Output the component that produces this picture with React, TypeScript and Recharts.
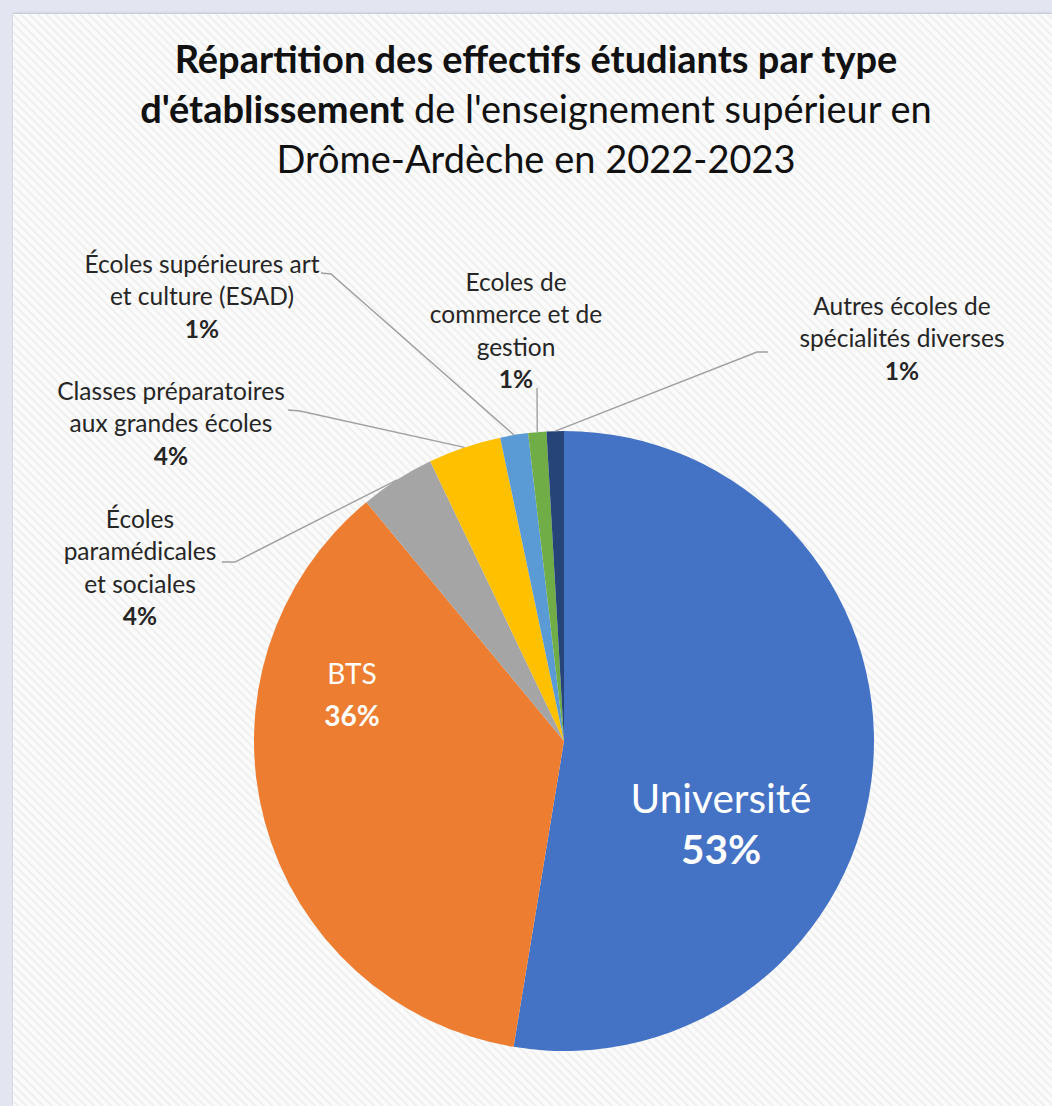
import React from 'react';
import { PieChart, Pie, Cell } from 'recharts';

// Categories in clockwise order, starting at 12 o'clock
const categories = [
  'Université',
  'BTS',
  'Écoles paramédicales et sociales',
  'Classes préparatoires aux grandes écoles',
  'Écoles supérieures art et culture (ESAD)',
  'Ecoles de commerce et de gestion',
  'Autres écoles de spécialités diverses',
];

// Share of students (%)
const shares = [52.6, 36.4, 3.9, 3.8, 1.45, 0.95, 0.9];

// How each label is broken into lines
const labelLines = [
  ['Université'],
  ['BTS'],
  ['Écoles', 'paramédicales', 'et sociales'],
  ['Classes préparatoires', 'aux grandes écoles'],
  ['Écoles supérieures art', 'et culture (ESAD)'],
  ['Ecoles de', 'commerce et de', 'gestion'],
  ['Autres écoles de', 'spécialités diverses'],
];

const colors = ['#4472C4', '#ED7D31', '#A5A5A5', '#FFC000', '#5B9BD5', '#70AD47', '#264478'];

const titleLines = [
  [{ t: 'Répartition des effectifs étudiants par type', b: true }],
  [
    { t: "d'établissement", b: true },
    { t: " de l'enseignement supérieur en", b: false },
  ],
  [{ t: 'Drôme-Ardèche en 2022-2023', b: false }],
];

const data = categories.map((name, i) => ({ name, value: shares[i] }));

const FONT = 'Lato, "Open Sans", sans-serif';
const CX = 564;
const CY = 741;
const R = 310;
const RADIAN = Math.PI / 180;

// label placement, relative to the pie centre
type Place = {
  x: number;
  y: number;
  inside?: boolean;
  size: number;
  gap: number;
  anchor?: [number, number];
  elbow?: [number, number];
};
const placement: Place[] = [
  { x: 157, y: 56, inside: true, size: 40.5, gap: 51 },
  { x: -212, y: -68, inside: true, size: 28, gap: 42 },
  { x: -424, y: -223, size: 24.5, gap: 32.5, anchor: [-342, -179], elbow: [-329, -179] },
  { x: -393, y: -351, size: 24.5, gap: 32.5, anchor: [-276, -331], elbow: [-264, -330] },
  { x: -362, y: -478, size: 24.5, gap: 32.5, anchor: [-243, -468], elbow: [-233, -467] },
  { x: -48, y: -460, size: 24.5, gap: 32.5, anchor: [-27, -353], elbow: [-27, -353] },
  { x: 338, y: -436, size: 24.5, gap: 32.5, anchor: [204, -389], elbow: [193, -389] },
];

function renderLabel(props: any) {
  const { cx, cy, midAngle, outerRadius, percent, index } = props;
  const p = placement[index];
  const lines = labelLines[index];
  const pct = `${Math.round(percent * 100)}%`;
  const color = p.inside ? '#ffffff' : '#262626';
  const tx = cx + p.x;
  let leader = null;
  if (p.anchor && p.elbow) {
    const sx = cx + outerRadius * Math.cos(-midAngle * RADIAN);
    const sy = cy + outerRadius * Math.sin(-midAngle * RADIAN);
    leader = (
      <polyline
        points={`${sx},${sy} ${cx + p.elbow[0]},${cy + p.elbow[1]} ${cx + p.anchor[0]},${cy + p.anchor[1]}`}
        fill="none"
        stroke="#a0a0a0"
        strokeWidth={1.4}
      />
    );
  }
  return (
    <g key={`lbl-${index}`}>
      {leader}
      {lines.map((l, k) => (
        <text
          key={k}
          x={tx}
          y={cy + p.y + k * p.gap}
          textAnchor="middle"
          dominantBaseline="central"
          fill={color}
          fontSize={p.size}
          fontFamily={FONT}
        >
          {l}
        </text>
      ))}
      <text
        x={tx}
        y={cy + p.y + lines.length * p.gap}
        textAnchor="middle"
        dominantBaseline="central"
        fill={color}
        fontSize={p.size}
        fontWeight={700}
        fontFamily={FONT}
      >
        {pct}
      </text>
    </g>
  );
}

export default function App() {
  return (
    <div
      style={{
        position: 'absolute',
        left: 0,
        top: 0,
        width: 1052,
        height: 1106,
        background: '#e3e6f1',
        overflow: 'hidden',
      }}
    >
      <div
        style={{
          position: 'absolute',
          left: 13,
          top: 14,
          right: 0,
          bottom: 0,
          background:
            'repeating-linear-gradient(45deg, #fbfbfb 0px, #fbfbfb 2px, #ececec 3.5px, #fbfbfb 5px, #fbfbfb 6px)',
          boxShadow: '0 -1px 2px rgba(120,125,150,0.35)',
        }}
      />
      <div
        style={{
          position: 'absolute',
          left: 0,
          top: 33,
          width: 1072,
          textAlign: 'center',
          fontFamily: FONT,
          fontSize: 38,
          lineHeight: '50px',
          color: '#111',
        }}
      >
        {titleLines.map((line, i) => (
          <div key={i}>
            {line.map((s, j) => (
              <span key={j} style={{ fontWeight: s.b ? 700 : 400, whiteSpace: 'pre' }}>
                {s.t}
              </span>
            ))}
          </div>
        ))}
      </div>
      <div style={{ position: 'absolute', left: 0, top: 0 }}>
        <PieChart width={1052} height={1106} margin={{ top: 0, right: 0, bottom: 0, left: 0 }}>
          <Pie
            data={data}
            dataKey="value"
            nameKey="name"
            cx={CX}
            cy={CY}
            outerRadius={R}
            startAngle={90}
            endAngle={-270}
            stroke="none"
            label={renderLabel}
            labelLine={false}
            isAnimationActive={false}
          >
            {data.map((d, i) => (
              <Cell key={d.name} fill={colors[i]} />
            ))}
          </Pie>
        </PieChart>
      </div>
    </div>
  );
}
